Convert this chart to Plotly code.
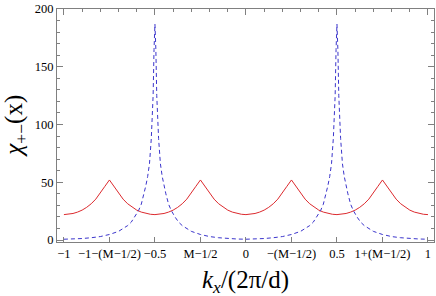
import plotly.graph_objects as go

# Red curve (solid): k_x samples and chi values
red_x = [-1.0, -0.975, -0.95, -0.925, -0.9, -0.875, -0.85, -0.825, -0.8, -0.775, -0.75,
         -0.725, -0.7, -0.675, -0.65, -0.625, -0.6, -0.575, -0.55, -0.525, -0.5,
         -0.475, -0.45, -0.425, -0.4, -0.375, -0.35, -0.325, -0.3, -0.275, -0.25,
         -0.225, -0.2, -0.175, -0.15, -0.125, -0.1, -0.075, -0.05, -0.025, 0.0,
         0.025, 0.05, 0.075, 0.1, 0.125, 0.15, 0.175, 0.2, 0.225, 0.25,
         0.275, 0.3, 0.325, 0.35, 0.375, 0.4, 0.425, 0.45, 0.475, 0.5,
         0.525, 0.55, 0.575, 0.6, 0.625, 0.65, 0.675, 0.7, 0.725, 0.75,
         0.775, 0.8, 0.825, 0.85, 0.875, 0.9, 0.925, 0.95, 0.975, 1.0]
red_y = [22.0, 22.3, 23.0, 24.2, 25.9, 28.3, 31.4, 35.4, 40.5, 46.5, 52.0,
         46.5, 40.5, 35.4, 31.4, 28.3, 25.9, 24.2, 23.0, 22.3, 22.0,
         22.3, 23.0, 24.2, 25.9, 28.3, 31.4, 35.4, 40.5, 46.5, 52.0,
         46.5, 40.5, 35.4, 31.4, 28.3, 25.9, 24.2, 23.0, 22.3, 22.0,
         22.3, 23.0, 24.2, 25.9, 28.3, 31.4, 35.4, 40.5, 46.5, 52.0,
         46.5, 40.5, 35.4, 31.4, 28.3, 25.9, 24.2, 23.0, 22.3, 22.0,
         22.3, 23.0, 24.2, 25.9, 28.3, 31.4, 35.4, 40.5, 46.5, 52.0,
         46.5, 40.5, 35.4, 31.4, 28.3, 25.9, 24.2, 23.0, 22.3, 22.0]

# Blue curve (dashed)
blue_x = [-1.0, -0.95, -0.9, -0.85, -0.8, -0.75, -0.7, -0.67, -0.65, -0.63, -0.61, -0.59,
          -0.575, -0.56, -0.55, -0.54, -0.53, -0.52, -0.51, -0.505, -0.5,
          -0.495, -0.49, -0.48, -0.47, -0.46, -0.45, -0.44, -0.425, -0.41, -0.39,
          -0.37, -0.35, -0.33, -0.3, -0.25, -0.2, -0.15, -0.1, -0.05, 0.0,
          0.05, 0.1, 0.15, 0.2, 0.25, 0.3, 0.33, 0.35, 0.37, 0.39,
          0.41, 0.425, 0.44, 0.45, 0.46, 0.47, 0.48, 0.49, 0.495, 0.5,
          0.505, 0.51, 0.52, 0.53, 0.54, 0.55, 0.56, 0.575, 0.59, 0.61,
          0.63, 0.65, 0.67, 0.7, 0.75, 0.8, 0.85, 0.9, 0.95, 1.0]
blue_y = [0.7, 0.9, 1.3, 2.0, 3.0, 4.8, 7.5, 10.5, 12.5, 15.5, 20.0, 25.5,
          31.0, 40.0, 47.0, 55.0, 66.0, 88.0, 125.0, 165.0, 187.0,
          165.0, 125.0, 88.0, 66.0, 55.0, 47.0, 40.0, 31.0, 25.5, 20.0,
          15.5, 12.5, 10.5, 7.5, 4.8, 3.0, 2.0, 1.3, 0.9, 0.7,
          0.9, 1.3, 2.0, 3.0, 4.8, 7.5, 10.5, 12.5, 15.5, 20.0,
          25.5, 31.0, 40.0, 47.0, 55.0, 66.0, 88.0, 125.0, 165.0, 187.0,
          165.0, 125.0, 88.0, 66.0, 55.0, 47.0, 40.0, 31.0, 25.5, 20.0,
          15.5, 12.5, 10.5, 7.5, 4.8, 3.0, 2.0, 1.3, 0.9, 0.7]

x_tickvals = [-1, -0.75, -0.5, -0.25, 0, 0.25, 0.5, 0.75, 1]
x_ticktext = ["\u22121", "\u22121\u2212(M\u22121/2)", "\u22120.5", "M\u22121/2", "0",
              "\u2212(M\u22121/2)", "0.5", "1+(M\u22121/2)", "1"]
y_tickvals = [0, 50, 100, 150, 200]
y_ticktext = ["0", "50", "100", "150", "200"]

XR = [-1.038, 1.033]
YR = [-1.7, 200]
FRAME = "#808080"
FONT = "Liberation Serif"

fig = go.Figure()
fig.add_trace(go.Scatter(x=red_x, y=red_y, mode="lines",
                         line=dict(color="#dc2a2e", width=1), hoverinfo="skip"))
fig.add_trace(go.Scatter(x=blue_x, y=blue_y, mode="lines",
                         line=dict(color="#3b35cc", width=1, dash="4px,3px"), hoverinfo="skip"))
fig.add_trace(go.Scatter(x=XR, y=[0, 0], xaxis="x2", yaxis="y2", mode="lines",
                         opacity=0, line=dict(width=1), hoverinfo="skip"))

fig.update_layout(
    width=436, height=296,
    margin=dict(l=57, r=2, t=7, b=54),
    plot_bgcolor="white", paper_bgcolor="white",
    showlegend=False,
    xaxis=dict(range=XR, tickvals=x_tickvals, ticktext=x_ticktext, tickangle=0,
               ticks="inside", ticklen=5, tickcolor=FRAME, tickwidth=1,
               showline=True, linecolor=FRAME, linewidth=1,
               showgrid=False, zeroline=False,
               tickfont=dict(family=FONT, size=12.5, color="black")),
    xaxis2=dict(range=XR, overlaying="x", side="top", anchor="y",
                tickvals=[-1, -0.5, 0, 0.5, 1], ticks="inside", ticklen=6,
                tickcolor=FRAME, showticklabels=False,
                minor=dict(tick0=0, dtick=0.1, ticks="inside", ticklen=3, tickcolor=FRAME),
                showline=True, linecolor=FRAME, linewidth=1,
                showgrid=False, zeroline=False),
    yaxis=dict(range=YR, tickvals=y_tickvals, ticktext=y_ticktext,
               ticks="inside", ticklen=6, tickcolor=FRAME,
               minor=dict(tick0=0, dtick=10, ticks="inside", ticklen=3, tickcolor=FRAME),
               showline=True, linecolor=FRAME, linewidth=1,
               showgrid=False, zeroline=False,
               tickfont=dict(family=FONT, size=12.5, color="black")),
    yaxis2=dict(range=YR, overlaying="y", side="right", anchor="x",
                tickvals=y_tickvals, ticks="inside", ticklen=6, tickcolor=FRAME,
                minor=dict(tick0=0, dtick=10, ticks="inside", ticklen=3, tickcolor=FRAME),
                showticklabels=False,
                showline=True, linecolor=FRAME, linewidth=1,
                showgrid=False, zeroline=False),
    annotations=[
        dict(text="<i>k<sub>x</sub></i>/(2\u03c0/d)", xref="paper", yref="paper",
             x=0.5, y=0, yshift=-39, xanchor="center", yanchor="middle",
             showarrow=False, font=dict(family=FONT, size=25, color="black")),
        dict(text="<i>\u03c7</i><sub>+\u2212</sub>(x)", xref="paper", yref="paper",
             x=-0.111, y=0.5, xanchor="center", yanchor="middle", textangle=-90,
             showarrow=False, font=dict(family=FONT, size=25, color="black")),
    ],
)

fig.write_html("out.html", config={"displayModeBar": False},
               post_script="document.body.style.margin='0';document.body.style.padding='0';")
